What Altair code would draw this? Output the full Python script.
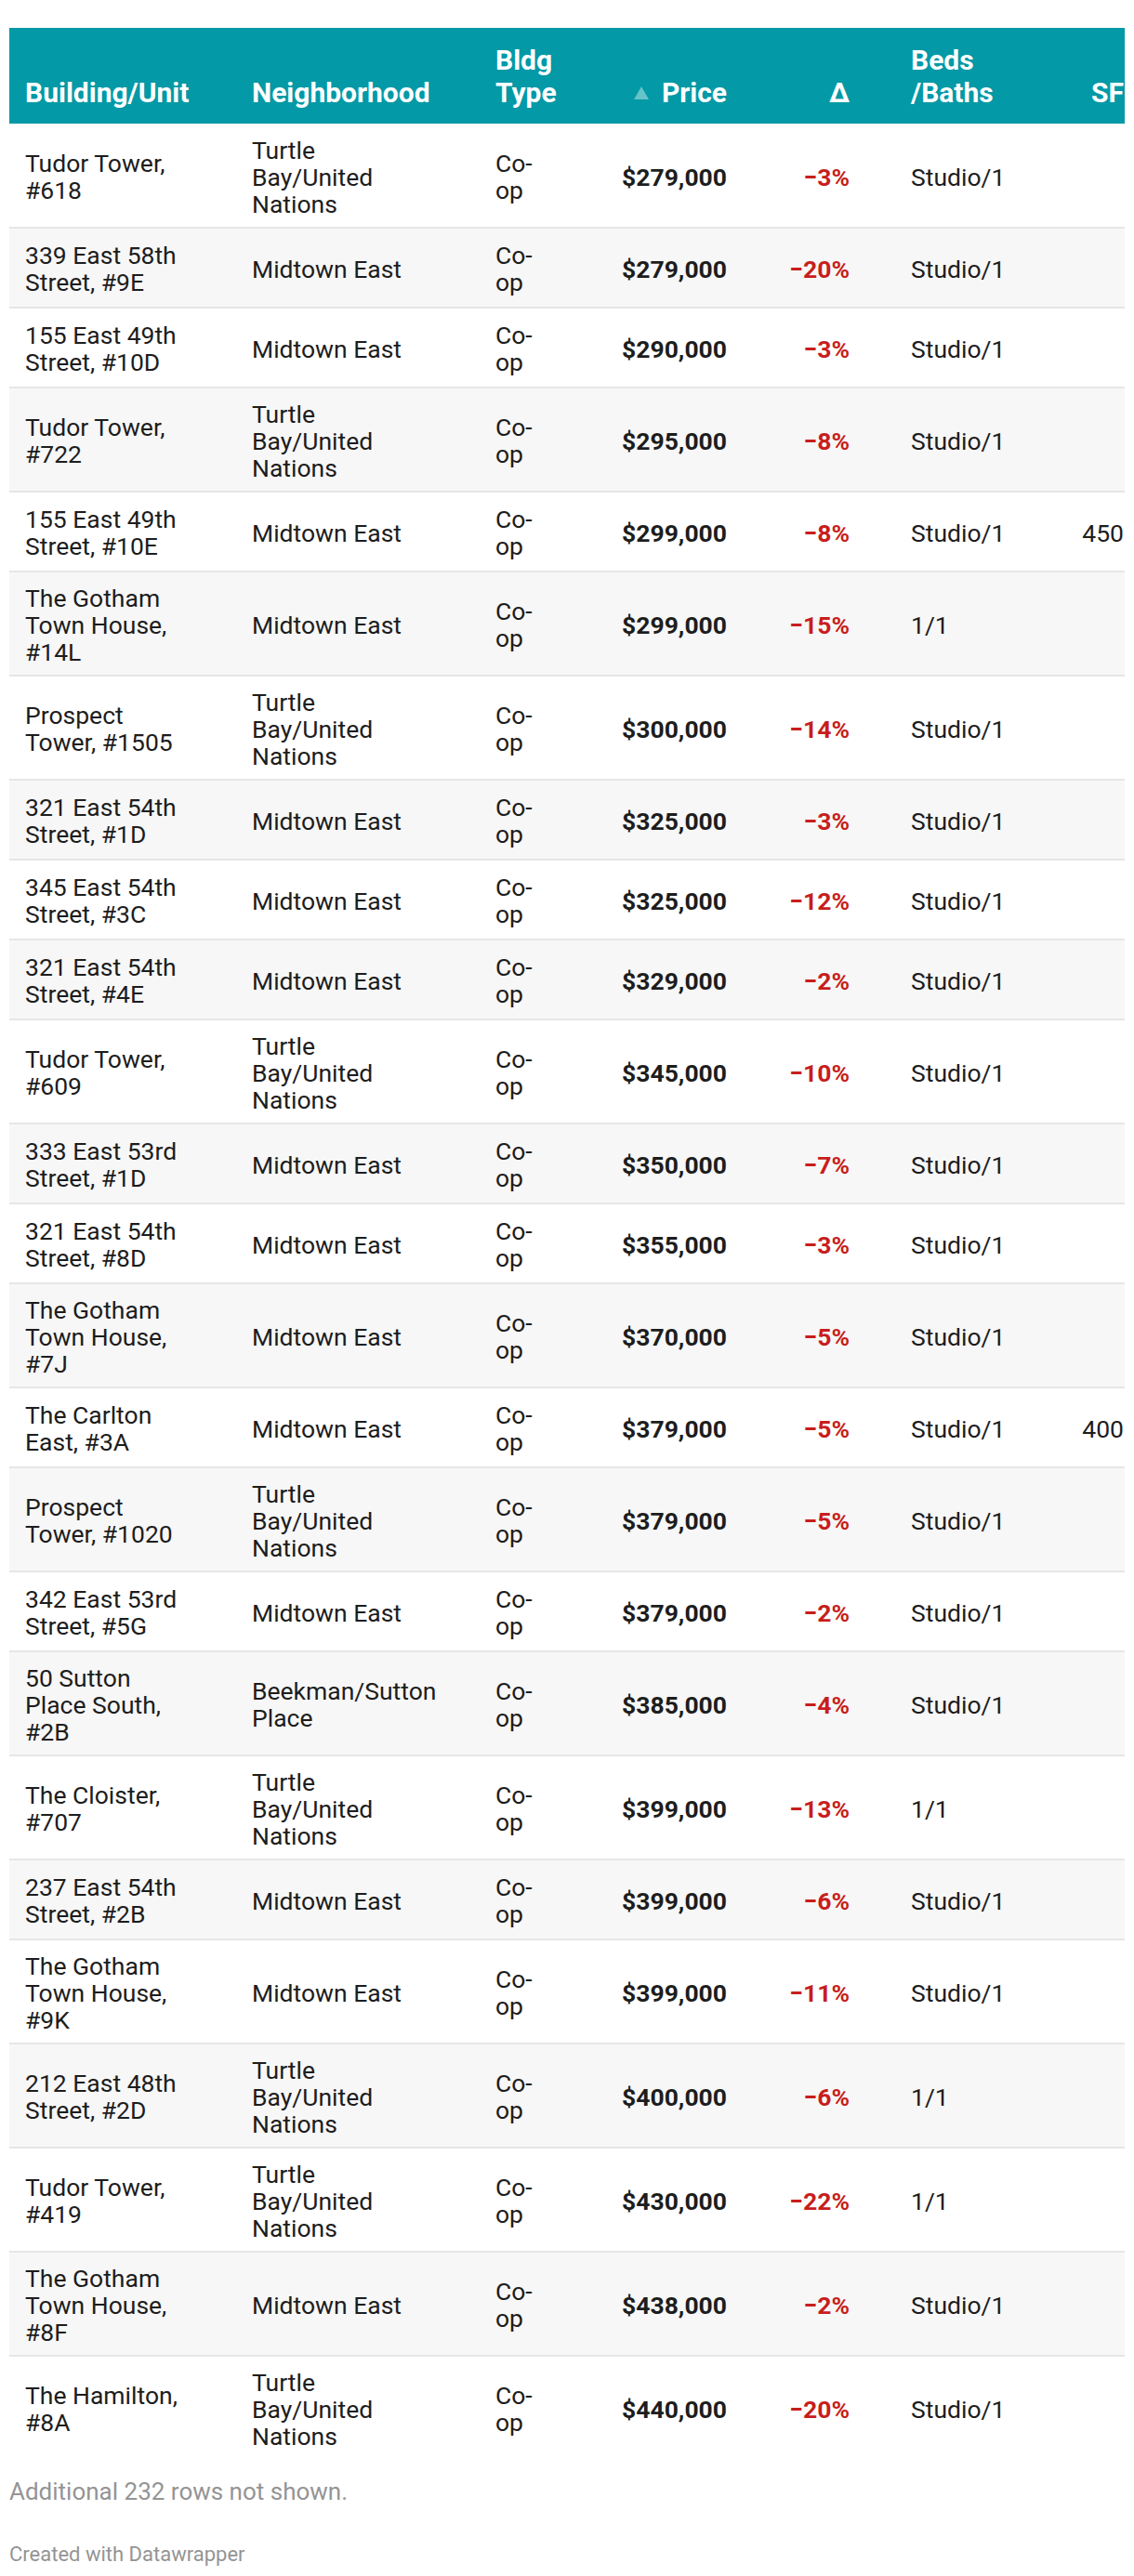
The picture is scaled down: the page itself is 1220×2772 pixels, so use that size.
import altair as alt
import pandas as pd

# ---------------- data (as shown in the table) ----------------
buildings = [
    "Tudor Tower,\n#618", "339 East 58th\nStreet, #9E", "155 East 49th\nStreet, #10D",
    "Tudor Tower,\n#722", "155 East 49th\nStreet, #10E", "The Gotham\nTown House,\n#14L",
    "Prospect\nTower, #1505", "321 East 54th\nStreet, #1D", "345 East 54th\nStreet, #3C",
    "321 East 54th\nStreet, #4E", "Tudor Tower,\n#609", "333 East 53rd\nStreet, #1D",
    "321 East 54th\nStreet, #8D", "The Gotham\nTown House,\n#7J", "The Carlton\nEast, #3A",
    "Prospect\nTower, #1020", "342 East 53rd\nStreet, #5G", "50 Sutton\nPlace South,\n#2B",
    "The Cloister,\n#707", "237 East 54th\nStreet, #2B", "The Gotham\nTown House,\n#9K",
    "212 East 48th\nStreet, #2D", "Tudor Tower,\n#419", "The Gotham\nTown House,\n#8F",
    "The Hamilton,\n#8A",
]
TB = "Turtle\nBay/United\nNations"
ME = "Midtown East"
BS = "Beekman/Sutton\nPlace"
neighborhoods = [TB, ME, ME, TB, ME, ME, TB, ME, ME, ME, TB, ME, ME, ME, ME,
                 TB, ME, BS, TB, ME, ME, TB, TB, ME, TB]
bldg_types = ["Co-\nop"] * 25
prices = [279000, 279000, 290000, 295000, 299000, 299000, 300000, 325000, 325000,
          329000, 345000, 350000, 355000, 370000, 379000, 379000, 379000, 385000,
          399000, 399000, 399000, 400000, 430000, 438000, 440000]
deltas = [-3, -20, -3, -8, -8, -15, -14, -3, -12, -2, -10, -7, -3, -5, -5, -5, -2,
          -4, -13, -6, -11, -6, -22, -2, -20]
beds_baths = ["Studio/1", "Studio/1", "Studio/1", "Studio/1", "Studio/1", "1/1",
              "Studio/1", "Studio/1", "Studio/1", "Studio/1", "Studio/1", "Studio/1",
              "Studio/1", "Studio/1", "Studio/1", "Studio/1", "Studio/1", "Studio/1",
              "1/1", "Studio/1", "Studio/1", "1/1", "1/1", "Studio/1", "Studio/1"]
sq_ft = [None, None, None, None, 450, None, None, None, None, None, None, None, None,
         None, 400, None, None, None, None, None, None, None, None, None, None]
header_line1 = ["", "", "Bldg", "", "", "Beds", ""]
header_line2 = ["Building/Unit", "Neighborhood", "Type", "Price", "\u0394", "/Baths", "SF"]
footer_note = "Additional 232 rows not shown."
credit = "Created with Datawrapper"

# ---------------- layout / style ----------------
FONT = "Roboto"
BODY_SIZE = 26.5
HEAD_SIZE = 30
TEXT = "#1d1d1d"
RED = "#c71e1d"
TEAL = "#0399a6"
COL_X = [27, 271, 533, 782, 914, 980, 1209]   # left / right anchors per column
TABLE_L, TABLE_R = 10, 1210
HEAD_T, HEAD_B = 30, 133
LINE_H = 29

# ---------------- derived tables ----------------
n = len(buildings)
price_txt = [f"${p:,}" for p in prices]
delta_txt = [f"\u2212{abs(d)}%" for d in deltas]
sf_txt = ["" if s is None else str(s) for s in sq_ft]

rows = []
top = HEAD_B
for i in range(n):
    lines = max(len(buildings[i].split("\n")), len(neighborhoods[i].split("\n")),
                len(bldg_types[i].split("\n")))
    h = 34 + 26 * lines
    rows.append({"row": i + 1, "top": top, "bottom": top + h, "center": top + h / 2})
    top += h
rows_df = pd.DataFrame(rows)

def cells(values, col):
    out = []
    for i, v in enumerate(values):
        parts = v.split("\n") if v else []
        m = len(parts)
        c = rows[i]["center"]
        for j, p in enumerate(parts):
            out.append({"text": p, "x": COL_X[col],
                        "y": c + 10.5 + (j - (m - 1) / 2) * LINE_H})
    return out

left_cells = pd.DataFrame(cells(buildings, 0) + cells(neighborhoods, 1) +
                          cells(bldg_types, 2) + cells(beds_baths, 5))
price_cells = pd.DataFrame(cells(price_txt, 3))
delta_cells = pd.DataFrame(cells(delta_txt, 4))
sf_cells = pd.DataFrame(cells(sf_txt, 6))

head = pd.DataFrame(
    [{"text": t, "x": COL_X[k], "y": 75} for k, t in enumerate(header_line1) if t] +
    [{"text": t, "x": COL_X[k], "y": 110} for k, t in enumerate(header_line2)]
)
head["right"] = head["x"].isin([COL_X[3], COL_X[4], COL_X[6]])

foot = pd.DataFrame([
    {"text": footer_note, "x": 10, "y": 2690, "size": 26, "color": "#949494"},
    {"text": credit, "x": 10, "y": 2756, "size": 22, "color": "#949494"},
])

# ---------------- scales ----------------
W, H = 1202, 2756
xs = alt.Scale(domain=[8, 1210], nice=False, zero=False)
ys = alt.Scale(domain=[8, 8 + H], nice=False, zero=False, reverse=True)

def X(f):
    return alt.X(f, type="quantitative", scale=xs, axis=None)

def Y(f):
    return alt.Y(f, type="quantitative", scale=ys, axis=None)

# backgrounds of even rows
bg = alt.Chart(rows_df[rows_df["row"] % 2 == 0]).mark_rect(color="#f7f7f7").encode(
    x=alt.X(datum=TABLE_L, type="quantitative", scale=xs, axis=None),
    x2=alt.X2(datum=TABLE_R),
    y=Y("top"), y2="bottom",
)
sep = alt.Chart(rows_df[rows_df["row"] > 1]).mark_rule(color="#e6e6e6", strokeWidth=2).encode(
    x=alt.X(datum=TABLE_L, type="quantitative", scale=xs, axis=None),
    x2=alt.X2(datum=TABLE_R),
    y=Y("top"),
)
head_bg = alt.Chart(pd.DataFrame({"t": [HEAD_T], "b": [HEAD_B]})).mark_rect(color=TEAL).encode(
    x=alt.X(datum=TABLE_L, type="quantitative", scale=xs, axis=None),
    x2=alt.X2(datum=TABLE_R),
    y=Y("t"), y2="b",
)
sort_icon = alt.Chart(pd.DataFrame({"x": [690], "y": [100]})).mark_point(
    shape="triangle-up", filled=True, size=256, color="#66c3c9", opacity=1
).encode(x=X("x"), y=Y("y"))

def text_layer(df, align, weight, color, size, clip=False):
    return alt.Chart(df).mark_text(
        align=align, baseline="alphabetic", font=FONT, fontSize=size,
        fontWeight=weight, color=color, clip=clip
    ).encode(x=X("x"), y=Y("y"), text="text:N")

head_l = text_layer(head[~head["right"]], "left", "bold", "white", HEAD_SIZE)
head_r = text_layer(head[head["right"]], "right", "bold", "white", HEAD_SIZE, clip=True)
body_l = text_layer(left_cells, "left", "normal", TEXT, BODY_SIZE)
body_p = text_layer(price_cells, "right", "bold", TEXT, BODY_SIZE)
body_d = text_layer(delta_cells, "right", "bold", RED, BODY_SIZE)
body_s = text_layer(sf_cells, "right", "normal", TEXT, BODY_SIZE, clip=True)

foot_t = alt.Chart(foot).mark_text(align="left", baseline="alphabetic", font=FONT).encode(
    x=X("x"), y=Y("y"), text="text:N",
    size=alt.Size("size:Q", scale=None, legend=None),
    color=alt.Color("color:N", scale=None, legend=None),
)

chart = alt.layer(
    bg, sep, head_bg, sort_icon, head_l, head_r, body_l, body_p, body_d, body_s, foot_t
).properties(
    width=W, height=H, padding=0, autosize="none", background="white"
).configure_view(stroke=None)

chart.save("out.html", embed_options={"renderer": "svg", "actions": False})
